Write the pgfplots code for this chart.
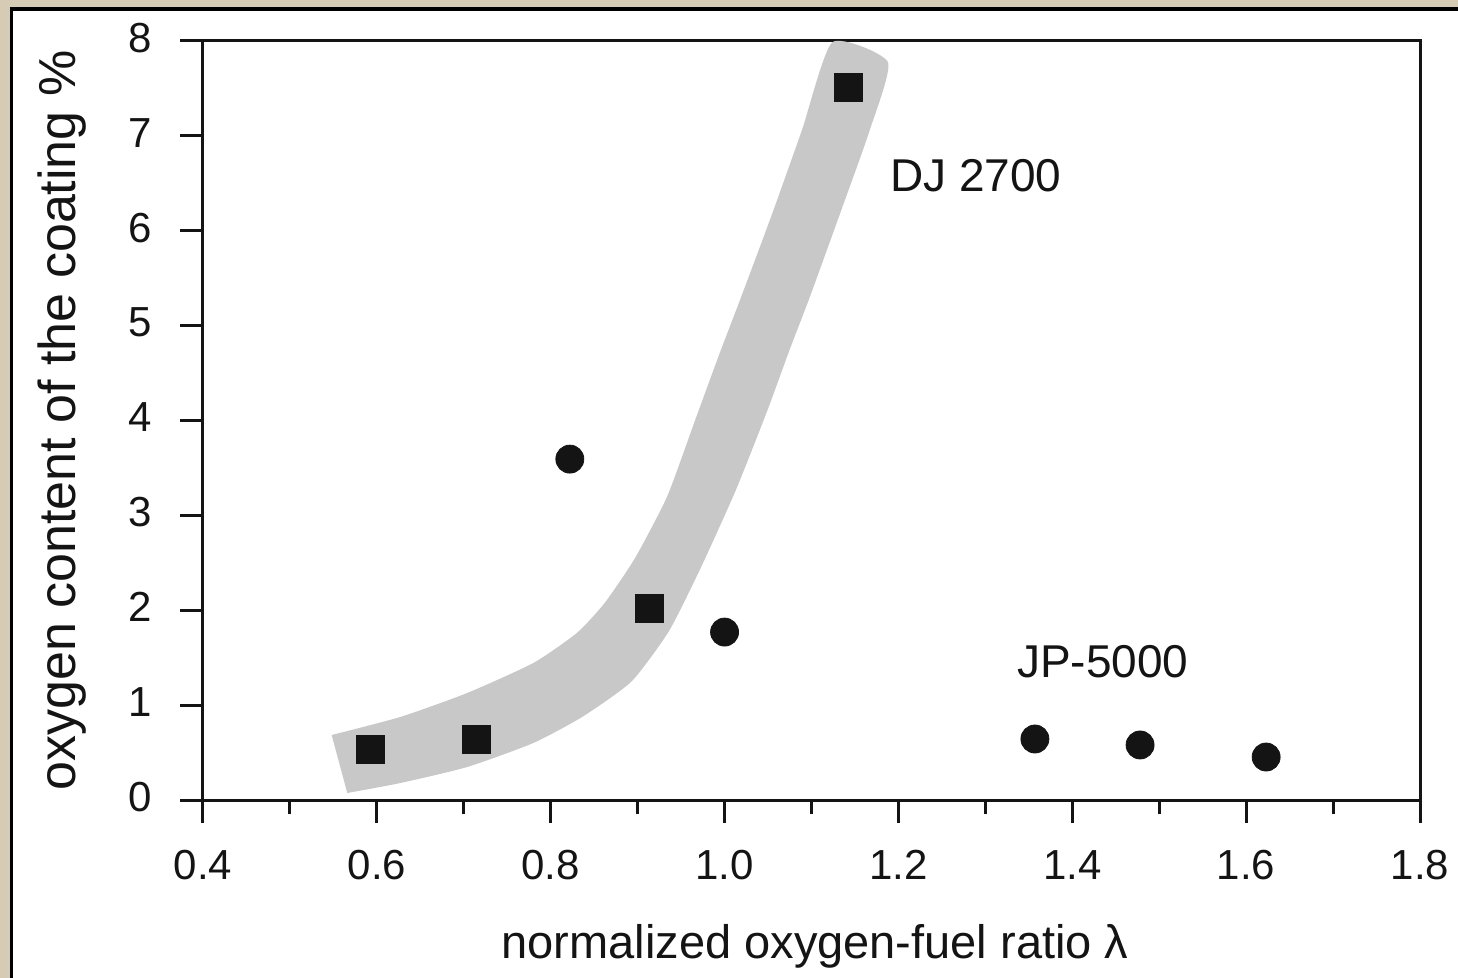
\documentclass[border=0pt]{standalone}
\usepackage{fontspec}
\setmainfont{Liberation Sans}
\usepackage{pgfplots}
\pgfplotsset{compat=1.18}
\definecolor{frame}{RGB}{214,204,182}
\definecolor{bandgray}{RGB}{200,200,200}
\definecolor{ink}{RGB}{20,20,20}

\begin{document}
\begin{tikzpicture}
\useasboundingbox (-101.5bp,-89bp) rectangle (627.5bp,400bp);
% scanned page frame
\fill[frame] (-101.5bp,-89bp) rectangle (627.5bp,400bp);
\fill[black] (-96.5bp,-89bp) rectangle (627.5bp,396.5bp);
\fill[white] (-95bp,-89bp) rectangle (627.5bp,394.5bp);
\begin{axis}[
  scale only axis, width=608.5bp, height=379.5bp,
  xmin=0.4, xmax=1.8, ymin=0, ymax=8,
  xtick={0.4,0.6,0.8,1.0,1.2,1.4,1.6,1.8},
  minor x tick num=1,
  ytick={0,1,2,3,4,5,6,7,8},
  tick align=outside, xtick pos=left, ytick pos=left,
  major tick length=11.5bp, minor tick length=7bp,
  tick style={ink, line width=1.5bp},
  minor tick style={ink, line width=1.5bp},
  axis line style={ink, line width=1.5bp},
  clip=false,
  /pgf/number format/assume math mode=true,
  tick label style={font=\fontsize{21bp}{25bp}\selectfont, text=ink},
  xticklabel style={/pgf/number format/fixed, /pgf/number format/fixed zerofill,
    /pgf/number format/precision=1, anchor=base, inner sep=0pt, yshift=-28bp},
  yticklabel style={anchor=east, inner sep=0pt, xshift=-14bp, yshift=1.5bp},
  xlabel={normalized oxygen-fuel ratio λ},
  ylabel={oxygen content of the coating \%},
  xlabel style={font=\fontsize{23.5bp}{28bp}\selectfont, text=ink,
    at={(axis description cs:0.5029,-0.2082)}, anchor=base, inner sep=0pt},
  ylabel style={font=\fontsize{26bp}{30bp}\selectfont, text=ink,
    at={(axis description cs:-0.1044,0.5)}, anchor=base, inner sep=0pt},
]
% shaded band around the DJ 2700 data (upper edge, then lower edge back)
\addplot[fill=bandgray, draw=none, smooth, tension=0.35] coordinates {
  (0.548,0.685) (0.627,0.875) (0.704,1.128) (0.780,1.444) (0.830,1.760)
  (0.862,2.076) (0.897,2.550) (0.934,3.200) (0.966,4.000) (0.994,4.700)
  (1.019,5.300) (1.055,6.185) (1.089,7.060) (1.124,7.987)
  (1.188,7.777) (1.167,7.060) (1.133,6.185) (1.098,5.300) (1.075,4.750)
  (1.049,4.100) (1.013,3.267) (0.973,2.455) (0.936,1.780) (0.893,1.250)
  (0.837,0.880) (0.780,0.601) (0.704,0.348) (0.627,0.179) (0.566,0.074)
};
% DJ 2700
\addplot[only marks, mark=square*, mark size=7bp, ink] coordinates {
  (0.593,0.537) (0.715,0.643) (0.914,2.023) (1.143,7.513)
};
% JP-5000
\addplot[only marks, mark=*, mark size=7bp, ink] coordinates {
  (0.822,3.593) (1.000,1.770) (1.357,0.643) (1.478,0.580) (1.623,0.453)
};
\node[anchor=base west, inner sep=0pt, text=ink, font=\fontsize{23bp}{28bp}\selectfont]
  at (axis cs:1.190,6.41) {DJ 2700};
\node[anchor=base west, inner sep=0pt, text=ink, font=\fontsize{23bp}{28bp}\selectfont]
  at (axis cs:1.336,1.286) {JP-5000};
\end{axis}
\end{tikzpicture}
\end{document}
